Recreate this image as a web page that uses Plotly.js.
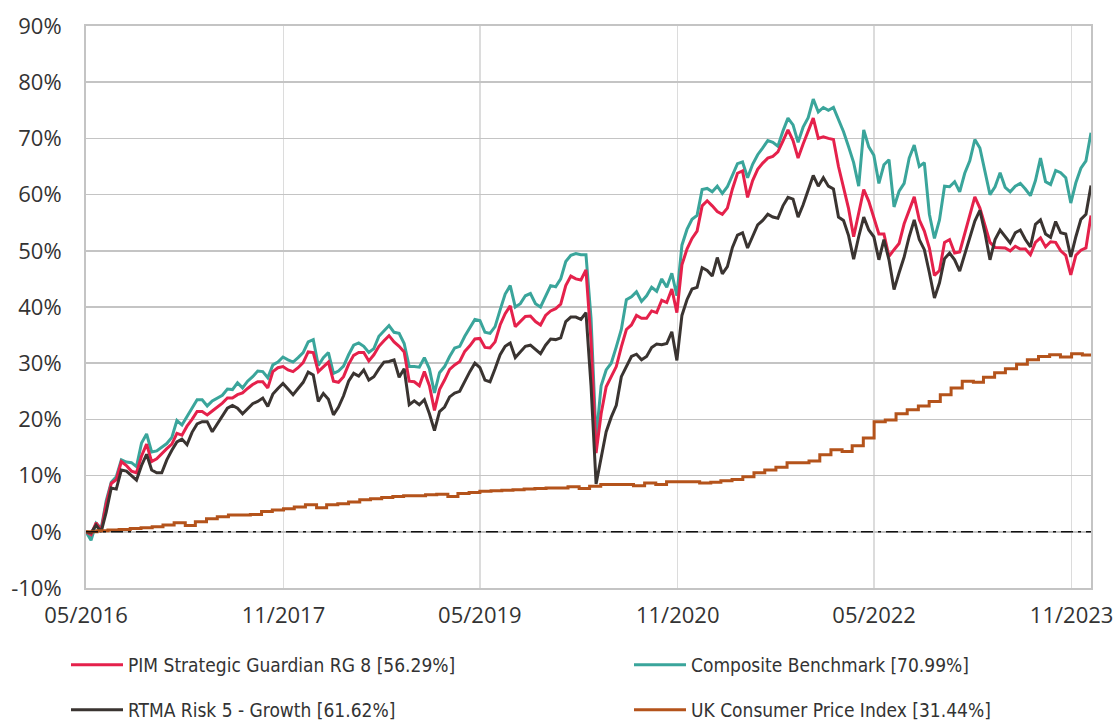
<!DOCTYPE html>
<html><head><meta charset="utf-8">
<script src="https://cdn.plot.ly/plotly-3.0.1.min.js"></script>
<style>html,body{margin:0;padding:0;background:#fff}#chart{width:1115px;height:722px}</style>
</head><body><div id="chart"></div>
<script>
// Observation schedule (roughly fortnightly readings)
const startDate = '2016-05-01';
const stepDays = 14.04;

const seriesNames = [
  'PIM Strategic Guardian RG 8 [56.29%]',
  'Composite Benchmark [70.99%]',
  'RTMA Risk 5 - Growth [61.62%]',
  'UK Consumer Price Index [31.44%]'
];

// cumulative performance, %
const pimValues = [
0,-0.5,1.6,0.2,5.0,8.6,9.3,12.5,11.8,10.8,10.5,13.5,15.6,12.5,13.0,14.0,14.8,15.6,17.5,17.2,
18.8,20.0,21.4,21.4,20.8,21.5,22.2,22.9,23.8,23.8,24.4,24.7,25.5,26.2,26.7,26.7,25.6,28.5,29.2,29.4,
28.8,28.5,29.2,30.1,32.0,31.9,28.5,29.4,30.2,26.8,26.6,27.6,29.8,31.4,31.9,31.9,30.4,31.5,33.0,34.0,
34.9,33.8,33.0,32.0,26.8,26.7,26.0,28.5,26.0,21.6,25.3,27.0,28.9,29.7,30.3,32.1,33.1,34.3,34.4,32.8,
32.7,33.8,36.8,38.8,40.2,36.5,37.4,38.3,38.4,37.4,36.8,38.5,39.3,39.7,40.5,43.8,45.5,45.0,44.8,46.6,
34.0,14.0,21.0,25.8,27.6,29.4,32.9,36.0,36.8,38.5,38.0,38.0,39.3,39.0,41.2,40.8,43.2,39.0,47.5,50.3,
52.2,53.5,58.0,58.9,58.0,57.0,56.5,57.6,61.0,63.8,64.2,59.5,62.5,64.5,65.6,66.5,66.8,67.6,69.5,71.5,
69.6,66.5,69.0,71.4,73.6,70.0,70.3,70.0,69.8,65.0,61.5,57.5,52.5,56.8,60.9,58.8,56.0,53.0,53.0,49.0,
50.2,51.3,54.8,57.4,59.6,55.5,53.5,50.5,45.6,46.5,51.5,52.0,49.6,49.8,53.2,56.3,59.6,57.6,54.5,51.5,
50.6,50.6,50.5,50.0,50.8,50.3,50.3,49.3,51.5,52.3,50.7,51.6,51.5,50.0,49.2,45.7,49.2,50.1,50.5,56.29
];

const compositeValues = [
0,-1.5,1.5,0.6,5.5,8.8,9.8,12.8,12.4,12.3,11.6,15.8,17.4,14.2,14.4,15.0,15.7,16.8,19.8,19.0,
20.5,22.0,23.5,23.5,22.4,23.3,23.8,24.3,25.4,25.3,26.5,25.6,26.8,27.6,28.6,28.5,27.4,29.7,30.2,31.1,
30.6,30.2,31.0,31.9,33.8,34.2,29.6,31.0,31.9,28.2,28.6,29.5,31.5,33.2,33.6,33.0,31.9,32.6,34.8,35.8,
36.7,35.5,35.3,33.5,29.4,29.4,29.3,31.0,29.0,24.7,28.3,29.4,31.2,32.7,33.0,34.8,36.2,37.8,37.6,35.5,
35.3,36.5,39.5,42.3,43.8,40.0,40.6,42.0,42.4,40.6,40.0,42.0,43.8,43.6,45.0,48.1,49.2,49.5,49.3,49.3,
38.0,16.5,26.0,28.8,30.0,32.9,36.0,41.3,41.8,42.7,41.0,42.0,43.5,42.8,45.0,43.5,46.0,42.0,51.0,53.8,
55.6,56.3,60.9,61.1,60.5,61.5,60.2,61.4,63.3,65.5,65.8,63.0,65.4,67.1,68.3,69.6,69.3,68.6,71.3,73.6,
72.4,69.3,72.0,73.7,77.0,74.7,75.5,75.0,75.5,73.3,71.2,68.5,65.7,61.5,71.5,68.5,67.0,62.0,65.3,66.2,
57.8,60.6,62.0,66.5,68.8,65.0,65.7,56.5,52.2,55.5,61.5,61.4,62.3,60.5,63.8,66.0,69.8,68.3,64.4,60.0,
61.4,63.9,61.3,60.5,61.5,62.0,61.0,59.8,62.5,66.5,62.3,61.8,64.3,63.9,63.0,58.5,62.1,64.7,66.0,70.99
];

const rtmaValues = [
0,-0.2,1.2,0.0,3.5,7.8,7.6,11.0,10.8,10.0,9.2,11.8,13.8,11.0,10.5,10.5,12.8,14.5,16.0,16.5,
15.5,17.7,19.2,19.6,19.6,17.8,19.2,20.7,22.0,22.5,22.0,21.0,22.0,22.8,23.2,23.8,22.3,24.5,25.5,26.4,
25.4,24.4,25.5,26.6,28.4,27.9,23.2,24.6,23.6,20.8,22.2,24.2,26.8,28.2,27.7,28.8,27.0,27.6,29.0,30.2,
30.3,30.6,27.5,29.0,22.6,23.3,22.6,23.5,21.0,18.0,21.4,22.2,24.0,24.7,25.0,26.8,28.5,30.0,29.2,27.0,
26.7,29.0,31.5,33.0,33.6,31.0,32.1,33.0,33.2,32.4,31.7,33.2,34.3,34.2,34.5,37.4,38.2,38.2,37.8,39.0,
26.0,8.5,13.5,17.8,20.4,22.5,27.6,29.4,31.2,31.6,30.6,31.2,32.8,33.4,33.3,33.5,35.6,30.5,38.5,41.3,
43.2,43.5,47.0,46.5,45.5,48.8,45.9,47.2,50.6,52.8,53.2,50.5,52.5,54.6,55.4,56.5,56.0,55.8,58.0,59.5,
59.2,56.0,58.2,60.8,63.4,61.5,63.0,61.5,61.0,56.0,55.4,52.7,48.5,52.5,56.0,53.7,52.5,48.4,52.0,48.4,
43.1,46.1,48.9,52.5,55.5,52.0,50.2,46.1,41.6,44.3,48.6,49.6,48.4,46.4,49.4,52.4,55.3,57.2,53.2,48.4,
52.0,53.7,52.5,51.4,53.2,53.7,52.0,50.7,54.7,55.5,53.0,52.4,55.2,53.2,53.0,48.9,52.5,55.6,56.5,61.62
];

// monthly UK CPI change since 05/2016, %
const cpiStartMonth = '2016-05';
const cpiValues = [
0,0.2,0.3,0.4,0.6,0.7,0.9,1.2,1.6,1.1,1.8,2.3,2.7,3.0,3.0,3.1,3.6,3.9,4.1,4.4,
4.8,4.3,4.8,5.0,5.3,5.7,5.9,6.1,6.3,6.4,6.4,6.6,6.7,6.3,6.8,7.0,7.2,7.3,7.4,7.5,
7.6,7.7,7.8,7.8,8.0,7.7,8.1,8.4,8.4,8.4,8.2,8.7,8.4,8.9,8.9,8.9,8.7,8.8,9.1,9.3,
9.8,10.5,11.0,11.5,12.3,12.3,12.6,13.7,14.6,14.3,15.3,16.7,19.6,19.9,21.0,21.7,22.4,23.2,24.4,25.6,
26.8,26.6,27.5,28.3,29.0,29.8,30.6,31.2,31.5,31.1,31.7,31.44
];

const yTickValues = [-10,0,10,20,30,40,50,60,70,80,90];
const yTickLabels = ['-10%','0%','10%','20%','30%','40%','50%','60%','70%','80%','90%'];

const colors = { pim:'#e5214b', comp:'#3aa59b', rtma:'#3a3431', cpi:'#b4531b' };

// ---- build dates
const t0 = Date.parse(startDate + 'T00:00:00Z');
const fmt = d => d.toISOString().slice(0,19).replace('T',' ');
const dates = pimValues.map((_, i) => fmt(new Date(t0 + i * stepDays * 86400000)));
const lastDate = dates[dates.length - 1];
const [cy, cm] = cpiStartMonth.split('-').map(Number);
const cpiDates = cpiValues.map((_, i) => fmt(new Date(Date.UTC(cy, cm - 1 + i, 1))));
cpiDates.push(lastDate);
const cpiPlot = cpiValues.concat([cpiValues[cpiValues.length - 1]]);

const legendFont = { family: 'DejaVu Sans Condensed, Liberation Sans Narrow, Roboto, sans-serif', size: 19, color: '#333333' };
const tickFont = { family: 'Open Sans, sans-serif', size: 22, color: '#333333' };

const traces = [
  { x: dates, y: compositeValues, name: seriesNames[1], type: 'scatter', mode: 'lines',
    line: { color: colors.comp, width: 3 }, legend: 'legend2' },
  { x: dates, y: pimValues, name: seriesNames[0], type: 'scatter', mode: 'lines',
    line: { color: colors.pim, width: 3 }, legend: 'legend' },
  { x: dates, y: rtmaValues, name: seriesNames[2], type: 'scatter', mode: 'lines',
    line: { color: colors.rtma, width: 3 }, legend: 'legend3' },
  { x: cpiDates, y: cpiPlot, name: seriesNames[3], type: 'scatter', mode: 'lines',
    line: { color: colors.cpi, width: 3, shape: 'hv' }, legend: 'legend4' }
];

function legendAt(xPx, yPx) {
  return {
    orientation: 'h', xref: 'container', yref: 'container',
    xanchor: 'left', yanchor: 'middle',
    x: xPx / 1115, y: 1 - yPx / 722,
    itemwidth: 52, font: legendFont, bgcolor: 'rgba(0,0,0,0)'
  };
}

const layout = {
  width: 1115, height: 722,
  paper_bgcolor: '#ffffff', plot_bgcolor: '#ffffff',
  margin: { l: 86, r: 24, t: 26, b: 134 },
  showlegend: true,
  legend: legendAt(66, 665),
  legend2: legendAt(629, 665),
  legend3: legendAt(66, 710),
  legend4: legendAt(629, 710),
  xaxis: {
    type: 'date', range: [startDate, lastDate],
    tick0: startDate, dtick: 'M18', tickformat: '%m/%Y',
    showgrid: true, gridcolor: '#dcdcdc', gridwidth: 1.5,
    showline: true, linecolor: '#c4c4c4', linewidth: 2, mirror: true,
    zeroline: false, ticks: '', tickfont: tickFont, ticklabelstandoff: 7
  },
  yaxis: {
    range: [-10, 90], tickmode: 'array', tickvals: yTickValues, ticktext: yTickLabels,
    showgrid: true, gridcolor: '#c4c4c4', gridwidth: 1.5,
    showline: true, linecolor: '#c4c4c4', linewidth: 2, mirror: true,
    zeroline: false, ticks: '', tickfont: tickFont, ticklabelstandoff: 18
  },
  shapes: [
    { type: 'line', layer: 'above', xref: 'paper', x0: 0, x1: 1, yref: 'y', y0: 0, y1: 0,
      line: { color: '#111111', width: 1.5, dash: '12px,5px,3px,5px' } }
  ]
};

Plotly.newPlot('chart', traces, layout, { staticPlot: true, displayModeBar: false });
</script>
</body></html>
